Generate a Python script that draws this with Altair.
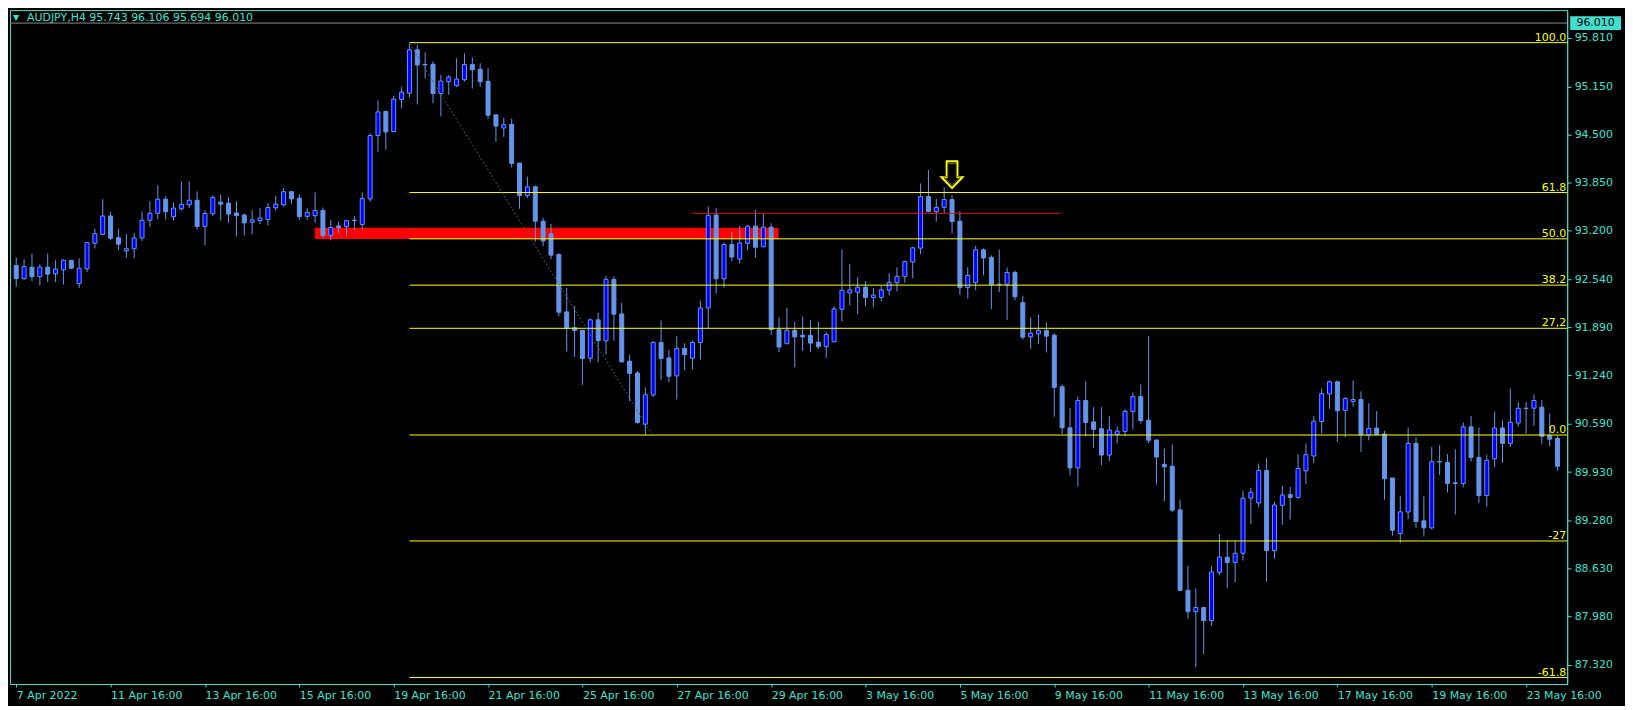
import altair as alt
import pandas as pd

# ---------------- data (AUDJPY H4) ----------------
opens = [92.727, 92.549, 92.705, 92.576, 92.705, 92.616, 92.669, 92.798, 92.482, 92.682,
         93.029, 93.149, 93.398, 93.105, 92.927, 92.954, 93.100, 93.340, 93.434, 93.625,
         93.389, 93.496, 93.549, 93.611, 93.256, 93.429, 93.585, 93.571, 93.438, 93.411,
         93.313, 93.336, 93.349, 93.509, 93.549, 93.727, 93.638, 93.393, 93.402, 93.473,
         93.135, 93.264, 93.255, 93.340, 93.282, 93.629, 94.487, 94.812, 94.541, 94.976,
         95.061, 95.648, 95.448, 95.452, 95.056, 95.216, 95.163, 95.243, 95.448, 95.385,
         95.221, 94.767, 94.589, 94.638, 94.114, 93.673, 93.793, 93.327, 93.157, 92.877,
         92.099, 91.886, 91.850, 91.472, 91.992, 91.708, 92.539, 92.072, 91.432, 91.272,
         90.578, 90.974, 91.685, 91.476, 91.232, 91.605, 91.472, 91.685, 92.152, 93.411,
         92.548, 93.011, 92.815, 93.028, 93.260, 92.980, 93.246, 91.859, 91.668, 91.850,
         91.783, 91.783, 91.690, 91.628, 91.694, 92.135, 92.357, 92.366, 92.433, 92.295,
         92.295, 92.393, 92.495, 92.580, 92.775, 92.962, 93.660, 93.456, 93.514, 93.620,
         93.327, 92.428, 92.495, 92.940, 92.838, 92.473, 92.473, 92.633, 92.224, 91.762,
         91.802, 91.846, 91.784, 91.086, 90.530, 89.987, 90.899, 90.610, 90.517, 90.161,
         90.441, 90.481, 90.752, 90.952, 90.632, 90.365, 90.036, 90.010, 89.418, 88.329,
         88.040, 88.097, 87.920, 88.573, 88.778, 88.707, 88.831, 89.578, 89.512, 89.952,
         88.867, 89.481, 89.623, 89.587, 89.948, 90.148, 90.615, 90.988, 91.153, 90.766,
         90.886, 90.913, 90.432, 90.526, 90.446, 89.850, 89.098, 89.390, 90.319, 89.270,
         89.175, 90.071, 90.061, 89.785, 89.776, 90.543, 90.128, 89.614, 90.109, 90.528,
         90.319, 90.595, 90.795, 90.795, 90.809, 90.423, 90.385]
highs = [92.838, 92.811, 92.891, 92.745, 92.891, 92.798, 92.811, 92.798, 92.825, 93.038,
         93.225, 93.625, 93.452, 93.225, 93.158, 93.167, 93.460, 93.598, 93.812, 93.665,
         93.580, 93.865, 93.865, 93.731, 93.478, 93.678, 93.691, 93.656, 93.598, 93.433,
         93.478, 93.505, 93.571, 93.669, 93.776, 93.727, 93.691, 93.504, 93.718, 93.513,
         93.344, 93.322, 93.344, 93.398, 93.718, 94.518, 94.963, 94.825, 95.025, 95.145,
         95.745, 95.715, 95.612, 95.492, 95.310, 95.305, 95.532, 95.599, 95.546, 95.466,
         95.399, 94.767, 94.727, 94.714, 94.114, 93.931, 93.811, 93.371, 93.291, 92.891,
         92.424, 92.179, 91.850, 92.010, 92.090, 92.584, 92.584, 92.223, 91.516, 91.298,
         91.076, 91.703, 91.983, 91.583, 91.770, 91.676, 91.712, 92.250, 93.526, 93.504,
         93.037, 93.184, 93.264, 93.277, 93.478, 93.424, 93.300, 92.023, 92.157, 91.966,
         92.037, 91.983, 91.966, 91.832, 92.179, 92.944, 92.744, 92.571, 92.517, 92.424,
         92.455, 92.624, 92.704, 92.793, 92.980, 93.838, 94.025, 93.629, 93.789, 93.678,
         93.465, 92.704, 92.993, 92.958, 92.864, 92.944, 92.700, 92.660, 92.318, 92.024,
         92.064, 91.957, 91.811, 91.117, 90.797, 90.952, 91.157, 90.810, 90.810, 90.690,
         90.543, 90.783, 91.010, 91.117, 91.771, 90.365, 90.250, 90.303, 89.556, 88.662,
         88.355, 88.097, 88.662, 89.089, 89.000, 89.000, 89.676, 89.712, 90.045, 90.116,
         89.530, 89.743, 89.730, 90.170, 90.317, 90.690, 91.064, 91.171, 91.171, 90.944,
         91.171, 91.024, 90.864, 90.757, 90.490, 89.850, 89.610, 90.533, 90.404, 89.604,
         90.271, 90.295, 90.176, 90.238, 90.604, 90.690, 90.533, 90.166, 90.747, 90.628,
         91.057, 90.881, 90.881, 90.986, 90.905, 90.724, 90.423]
lows = [92.438, 92.536, 92.518, 92.456, 92.504, 92.504, 92.469, 92.678, 92.424, 92.638,
        92.958, 93.136, 93.069, 92.936, 92.829, 92.829, 93.056, 93.247, 93.354, 93.349,
        93.336, 93.469, 93.505, 93.211, 92.998, 93.398, 93.336, 93.304, 93.122, 93.136,
        93.149, 93.291, 93.269, 93.469, 93.522, 93.558, 93.349, 93.349, 93.304, 93.100,
        93.069, 93.171, 93.135, 93.198, 93.215, 93.589, 94.269, 94.296, 94.541, 94.856,
        95.003, 94.910, 95.257, 94.923, 94.745, 95.039, 95.145, 95.216, 95.123, 95.145,
        94.710, 94.403, 94.469, 94.056, 93.496, 93.642, 93.046, 92.989, 92.815, 92.041,
        91.561, 91.490, 91.112, 91.414, 91.423, 91.521, 91.708, 91.414, 90.889, 90.587,
        90.432, 90.947, 91.174, 91.147, 90.914, 91.307, 91.321, 91.454, 91.877, 92.348,
        92.424, 92.784, 92.757, 92.935, 92.837, 92.980, 91.788, 91.556, 91.668, 91.348,
        91.570, 91.556, 91.596, 91.476, 91.694, 91.970, 92.188, 92.068, 92.175, 92.162,
        92.242, 92.322, 92.375, 92.495, 92.557, 92.882, 93.456, 93.322, 93.438, 93.162,
        92.331, 92.282, 92.393, 92.597, 92.135, 92.366, 91.990, 92.255, 91.722, 91.602,
        91.668, 91.548, 90.677, 90.450, 89.881, 89.734, 90.414, 90.254, 90.023, 90.076,
        90.316, 90.414, 90.508, 90.588, 90.321, 89.761, 89.534, 89.387, 88.320, 87.946,
        87.288, 87.466, 87.853, 88.533, 88.355, 88.440, 88.733, 89.223, 89.454, 88.453,
        88.756, 89.214, 89.289, 89.570, 89.770, 90.054, 90.455, 90.788, 90.334, 90.401,
        90.815, 90.201, 90.361, 90.437, 89.556, 89.067, 88.974, 89.294, 89.175, 89.056,
        89.151, 89.890, 89.652, 89.356, 89.723, 90.071, 89.509, 89.461, 89.999, 90.057,
        90.271, 90.547, 90.452, 90.557, 90.304, 90.280, 89.947]
closes = [92.549, 92.713, 92.576, 92.705, 92.611, 92.678, 92.798, 92.691, 92.691, 93.038,
          93.158, 93.398, 93.096, 93.016, 92.954, 93.100, 93.340, 93.434, 93.625, 93.456,
          93.505, 93.554, 93.611, 93.256, 93.433, 93.647, 93.558, 93.425, 93.402, 93.304,
          93.344, 93.371, 93.513, 93.558, 93.727, 93.629, 93.389, 93.447, 93.473, 93.135,
          93.242, 93.238, 93.335, 93.335, 93.633, 94.487, 94.807, 94.536, 94.981, 95.074,
          95.648, 95.443, 95.443, 95.056, 95.225, 95.279, 95.252, 95.448, 95.377, 95.216,
          94.763, 94.616, 94.634, 94.109, 93.673, 93.793, 93.327, 93.060, 92.868, 92.095,
          91.877, 91.846, 91.468, 91.992, 91.708, 92.539, 92.068, 91.423, 91.267, 90.600,
          90.978, 91.685, 91.468, 91.227, 91.605, 91.521, 91.685, 92.152, 93.406, 92.548,
          93.011, 92.842, 93.033, 93.260, 92.975, 93.246, 91.859, 91.623, 91.850, 91.761,
          91.761, 91.677, 91.628, 91.792, 92.139, 92.392, 92.397, 92.433, 92.295, 92.326,
          92.397, 92.500, 92.580, 92.780, 92.967, 93.660, 93.456, 93.514, 93.620, 93.322,
          92.428, 92.593, 92.940, 92.829, 92.468, 92.468, 92.633, 92.304, 91.757, 91.811,
          91.846, 91.771, 91.077, 90.530, 89.987, 90.899, 90.601, 90.508, 90.161, 90.499,
          90.485, 90.752, 90.952, 90.628, 90.361, 90.134, 90.001, 89.414, 88.329, 88.040,
          88.097, 87.920, 88.578, 88.778, 88.707, 88.831, 89.578, 89.658, 89.952, 88.867,
          89.485, 89.619, 89.587, 89.979, 90.166, 90.619, 90.993, 91.153, 90.761, 90.926,
          90.913, 90.432, 90.521, 90.437, 89.841, 89.143, 89.392, 90.319, 89.261, 89.175,
          90.071, 90.066, 89.776, 89.776, 90.543, 90.128, 89.614, 90.090, 90.528, 90.319,
          90.604, 90.795, 90.790, 90.900, 90.414, 90.376, 90.009]

bar_index = list(range(len(opens)))

time_tick_index = [0, 12, 24, 36, 48, 60, 72, 84, 96, 108, 120, 132, 144, 156, 168, 180, 192]
time_tick_labels = ["7 Apr 2022", "11 Apr 16:00", "13 Apr 16:00", "15 Apr 16:00", "19 Apr 16:00",
                    "21 Apr 16:00", "25 Apr 16:00", "27 Apr 16:00", "29 Apr 16:00", "3 May 16:00",
                    "5 May 16:00", "9 May 16:00", "11 May 16:00", "13 May 16:00", "17 May 16:00",
                    "19 May 16:00", "23 May 16:00"]
price_ticks = [95.810, 95.150, 94.500, 93.850, 93.200, 92.540, 91.890, 91.240,
               90.590, 89.930, 89.280, 88.630, 87.980, 87.320]

fib_labels = ["100.0", "61.8", "50.0", "38.2", "27,2", "0.0", "-27", "-61.8"]
fib_ratios = [1.0, 0.618, 0.5, 0.382, 0.272, 0.0, -0.27, -0.618]
fib_high, fib_low = 95.745, 90.432
fib_start_bar = 50
fib_prices = [fib_low + r * (fib_high - fib_low) for r in fib_ratios]

trend_bars = [50, 80.9]
trend_prices = [95.737, 90.432]

zone_bars = [37.96, 96.96]
zone_prices = [93.085, 93.240]

resist_bars = [86.0, 132.8]
resist_price = 93.434

arrow_bar = 119
arrow_price = 93.958

last_price = 96.010
header = "AUDJPY,H4  95.743 96.106 95.694 96.010"

# ---------------- styling ----------------
W, H = 1562, 676
TEAL = "#40E0D0"
CANDLE = "#6495ED"
BULL = "#0000FF"
YELLOW = "#FFFF00"
FONT = "DejaVu Sans"

df = pd.DataFrame({"k": bar_index, "open": opens, "high": highs, "low": lows, "close": closes})
fib_df = pd.DataFrame({"label": fib_labels, "p": fib_prices, "k0": fib_start_bar})
trend_df = pd.DataFrame({"k": trend_bars, "p": trend_prices})
zone_df = pd.DataFrame({"k1": [zone_bars[0]], "k2": [zone_bars[1]],
                        "p1": [zone_prices[0]], "p2": [zone_prices[1]]})
resist_df = pd.DataFrame({"k1": [resist_bars[0]], "k2": [resist_bars[1]], "p": [resist_price]})
arrow_df = pd.DataFrame({"k": [arrow_bar], "p": [arrow_price]})
last_df = pd.DataFrame({"p": [last_price], "t": [f"{last_price:.3f}"]})
head_df = pd.DataFrame({"t": [header]})

xs = alt.Scale(domain=[-0.16, 196.59], nice=False, zero=False)
ys = alt.Scale(domain=[87.061, 96.186], nice=False, zero=False)

label_array = "[" + ",".join('"%s"' % s for s in time_tick_labels) + "]"

x_axis = alt.Axis(values=time_tick_index, labelExpr=label_array + "[round(datum.value/12)]",
                  labelAlign="left", labelColor=TEAL, tickColor=TEAL, domainColor=TEAL,
                  tickSize=3, labelPadding=3, labelFont=FONT, labelFontSize=11,
                  labelFlush=False, labelOverlap=False, grid=False, title=None)
y_axis = alt.Axis(orient="right", values=price_ticks, format=".3f", labelColor=TEAL,
                  tickColor=TEAL, domainColor=TEAL, tickSize=4, labelPadding=3,
                  labelFont=FONT, labelFontSize=11, labelFlush=False, labelOverlap=False,
                  grid=False, title=None)


def X(field):
    return alt.X(field, scale=xs, axis=x_axis)


def Y(field):
    return alt.Y(field, scale=ys, axis=y_axis)


zone = alt.Chart(zone_df).mark_rect(color="#FF0000").encode(
    x=X("k1:Q"), x2="k2:Q", y=Y("p1:Q"), y2="p2:Q")

wicks = alt.Chart(df).mark_rule(color=CANDLE, strokeWidth=1).encode(
    x=X("k:Q"), y=Y("low:Q"), y2="high:Q")

bodies = alt.Chart(df).mark_bar(size=4, stroke=CANDLE, strokeWidth=1).encode(
    x=X("k:Q"), y=Y("open:Q"), y2="close:Q",
    fill=alt.condition("datum.close >= datum.open", alt.value(BULL), alt.value(CANDLE)))

fib_lines = alt.Chart(fib_df).mark_rule(color=YELLOW, strokeWidth=1).encode(
    x=X("k0:Q"), x2=alt.value(W), y=Y("p:Q"))

fib_text = alt.Chart(fib_df).mark_text(align="right", baseline="alphabetic", dy=-2,
                                       color=YELLOW, font=FONT, fontSize=11).encode(
    x=alt.value(W - 1), y=Y("p:Q"), text="label:N")

trend = alt.Chart(trend_df).mark_line(color="#3C6660", strokeWidth=1, strokeDash=[2, 2]).encode(
    x=X("k:Q"), y=Y("p:Q"))

resist = alt.Chart(resist_df).mark_rule(color="#E01010", strokeWidth=1).encode(
    x=X("k1:Q"), x2="k2:Q", y=Y("p:Q"))

arrow_path = "M -0.4 -1 L 0.4 -1 L 0.4 0.2 L 0.78 0.2 L 0 1 L -0.78 0.2 L -0.4 0.2 Z"
arrow = alt.Chart(arrow_df).mark_point(shape=arrow_path, size=729, filled=False,
                                       stroke=YELLOW, strokeWidth=2, opacity=1).encode(
    x=X("k:Q"), y=Y("p:Q"))
arrow_in = alt.Chart(arrow_df).mark_point(shape=arrow_path, size=480, filled=False,
                                          stroke="#7A7A00", strokeWidth=1, opacity=1).encode(
    x=X("k:Q"), y=Y("p:Q"))

last_line = alt.Chart(last_df).mark_rule(color="#8C8C8C", strokeWidth=1).encode(
    x=alt.value(0), x2=alt.value(W), y=Y("p:Q"))

box_path = "M -1 -0.27 L 1 -0.27 L 1 0.27 L -1 0.27 Z"
last_box = alt.Chart(last_df).mark_point(shape=box_path, size=2601, filled=True,
                                         fill=TEAL, opacity=1, strokeWidth=0).encode(
    x=alt.value(W + 28.5), y=Y("p:Q"))
last_text = alt.Chart(last_df).mark_text(align="center", baseline="middle", color="black",
                                         font=FONT, fontSize=11).encode(
    x=alt.value(W + 28.5), y=Y("p:Q"), text="t:N")

head_tri = alt.Chart(head_df).mark_text(text="▼", align="center", baseline="middle",
                                        color=TEAL, font=FONT, fontSize=8).encode(
    x=alt.value(6), y=alt.value(8))
head_text = alt.Chart(head_df).mark_text(align="left", baseline="middle", color=TEAL,
                                         font=FONT, fontSize=11).encode(
    x=alt.value(17), y=alt.value(8), text="t:N")

chart = alt.layer(
    zone, wicks, bodies, fib_lines, trend, resist, last_line, fib_text,
    arrow, arrow_in, last_box, last_text, head_tri, head_text
).properties(
    width=W, height=H, padding={"left": 1, "top": 1, "right": 4, "bottom": 4}
).configure(background="black").configure_view(stroke=TEAL, strokeWidth=1)

chart.save("out.html", embed_options={"renderer": "svg", "actions": False})
